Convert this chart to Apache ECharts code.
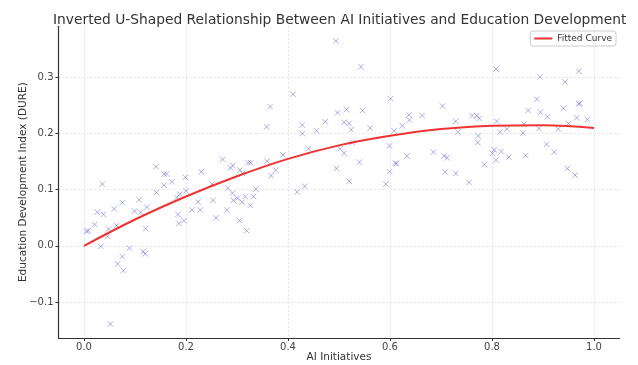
<!DOCTYPE html>
<html>
<head>
<meta charset="utf-8">
<script src="https://cdn.jsdelivr.net/npm/echarts@6/dist/echarts.min.js"></script>
<style>html,body{margin:0;padding:0;background:#fff}#c{width:638px;height:365px}</style>
</head>
<body>
<div id="c"></div>
<script>
const titleText = 'Inverted U-Shaped Relationship Between AI Initiatives and Education Development';
const xName = 'AI Initiatives';
const yName = 'Education Development Index (DURE)';
const curveName = 'Fitted Curve';
const xTicks = [0, 0.2, 0.4, 0.6, 0.8, 1.0];
const yTicks = [-0.1, 0, 0.1, 0.2, 0.3];

const scatterX = [0.005,0.008,0.021,0.033,0.036,0.026,0.038,0.048,0.046,0.064,0.059,0.075,0.089,0.075,0.066,0.077,0.052,0.099,0.108,0.111,0.123,0.121,0.116,0.120,0.141,0.142,0.157,0.162,0.157,0.172,0.182,0.188,0.184,0.186,0.196,0.199,0.200,0.212,0.224,0.228,0.230,0.251,0.253,0.259,0.272,0.280,0.282,0.287,0.292,0.291,0.293,0.301,0.306,0.305,0.310,0.311,0.316,0.319,0.322,0.327,0.326,0.332,0.337,0.358,0.365,0.359,0.367,0.376,0.390,0.410,0.418,0.428,0.428,0.433,0.440,0.456,0.473,0.494,0.495,0.497,0.502,0.510,0.510,0.515,0.520,0.520,0.524,0.526,0.540,0.543,0.546,0.561,0.592,0.599,0.599,0.601,0.608,0.610,0.613,0.624,0.633,0.637,0.638,0.663,0.685,0.703,0.706,0.712,0.708,0.729,0.733,0.729,0.755,0.761,0.770,0.775,0.773,0.772,0.785,0.804,0.801,0.808,0.808,0.809,0.816,0.818,0.829,0.833,0.861,0.863,0.866,0.871,0.888,0.892,0.894,0.895,0.907,0.909,0.922,0.930,0.940,0.943,0.948,0.950,0.963,0.966,0.970,0.970,0.972,0.987];
const scatterY = [0.026,0.027,0.038,-0.001,0.110,0.060,0.056,0.030,0.017,0.036,0.066,0.077,-0.004,-0.019,-0.032,-0.044,-0.139,0.062,0.082,0.060,0.069,0.031,-0.010,-0.014,0.141,0.095,0.128,0.128,0.108,0.114,0.086,0.092,0.056,0.040,0.045,0.122,0.098,0.064,0.078,0.064,0.132,0.110,0.081,0.050,0.154,0.064,0.103,0.139,0.143,0.094,0.081,0.085,0.135,0.045,0.078,0.129,0.088,0.027,0.148,0.148,0.072,0.088,0.101,0.212,0.248,0.151,0.125,0.135,0.162,0.270,0.096,0.215,0.200,0.106,0.173,0.205,0.221,0.365,0.138,0.237,0.173,0.165,0.220,0.243,0.218,0.115,0.207,0.184,0.149,0.319,0.241,0.210,0.110,0.178,0.132,0.262,0.205,0.147,0.147,0.214,0.160,0.233,0.224,0.232,0.167,0.249,0.160,0.157,0.132,0.222,0.203,0.129,0.113,0.232,0.232,0.227,0.196,0.184,0.145,0.171,0.165,0.153,0.315,0.222,0.203,0.168,0.208,0.158,0.201,0.217,0.161,0.241,0.261,0.209,0.301,0.238,0.181,0.230,0.167,0.208,0.245,0.292,0.138,0.218,0.126,0.228,0.311,0.253,0.254,0.225];

const curveX = [0, 0.1, 0.2, 0.3, 0.4, 0.5, 0.6, 0.7, 0.8, 0.9, 1.0];
const curveY = [0.000, 0.047, 0.088, 0.124, 0.155, 0.179, 0.196, 0.208, 0.214, 0.215, 0.210];

const fmt = v => (Math.abs(v) < 1e-9 ? 0 : v).toFixed(1).replace('-', '\u2212');
const font = 'DejaVu Sans';

const chart = echarts.init(document.getElementById('c'), null, {renderer: 'canvas'});
chart.setOption({
  animation: false,
  backgroundColor: '#fff',
  textStyle: {fontFamily: font},
  title: {
    text: titleText, left: 48, top: 8,
    textStyle: {fontFamily: font, fontSize: 13.8, fontWeight: 'normal', color: '#333'}
  },
  legend: {
    data: [{name: curveName, icon: 'rect'}],
    right: 22, top: 31,
    itemWidth: 18, itemHeight: 2,
    borderColor: '#ccc', borderWidth: 1, borderRadius: 3,
    padding: [3, 4, 3, 4],
    textStyle: {fontFamily: font, fontSize: 9, color: '#333'}
  },
  grid: {left: 58.5, right: 18.5, top: 26.3, bottom: 27, containLabel: false, outerBoundsMode: 'none'},
  xAxis: {
    type: 'value', min: -0.05, max: 1.05,
    name: xName, nameLocation: 'middle', nameGap: 14, nameMoveOverlap: false,
    nameTextStyle: {fontFamily: font, fontSize: 10.5, color: '#333'},
    axisLine: {show: true, onZero: false, lineStyle: {color: '#333', width: 1.2}},
    axisTick: {show: true, length: 3, customValues: xTicks, lineStyle: {color: '#333'}},
    axisLabel: {customValues: xTicks, formatter: fmt, fontFamily: font, fontSize: 10, color: '#444', margin: 4},
    splitLine: {show: true, lineStyle: {color: '#ddd', type: [2, 2], width: 0.8}}
  },
  yAxis: {
    type: 'value', min: -0.164, max: 0.391,
    name: yName, nameLocation: 'middle', nameGap: 30, nameRotate: 90, nameMoveOverlap: false,
    nameTextStyle: {fontFamily: font, fontSize: 10.5, color: '#333'},
    axisLine: {show: true, onZero: false, lineStyle: {color: '#333', width: 1.2}},
    axisTick: {show: true, length: 3, customValues: yTicks, lineStyle: {color: '#333'}},
    axisLabel: {customValues: yTicks, formatter: fmt, fontFamily: font, fontSize: 10, color: '#444', margin: 5},
    splitLine: {show: true, lineStyle: {color: '#ddd', type: [2, 2], width: 0.8}}
  },
  series: [
    {
      type: 'scatter', name: 'Data',
      data: scatterX.map((x, i) => [x, scatterY[i]]),
      symbol: 'path://M0,0L10,10M10,0L0,10',
      symbolSize: 5.5,
      itemStyle: {color: 'rgba(0,0,0,0)', borderColor: 'rgba(70,70,200,0.55)', borderWidth: 1},
      z: 2
    },
    {
      type: 'line', name: curveName,
      data: curveX.map((x, i) => [x, curveY[i]]),
      smooth: 0.4, showSymbol: false, symbol: 'none',
      lineStyle: {color: '#ee3333', width: 2},
      itemStyle: {color: '#ee3333'},
      z: 3
    }
  ]
});
</script>
</body>
</html>
